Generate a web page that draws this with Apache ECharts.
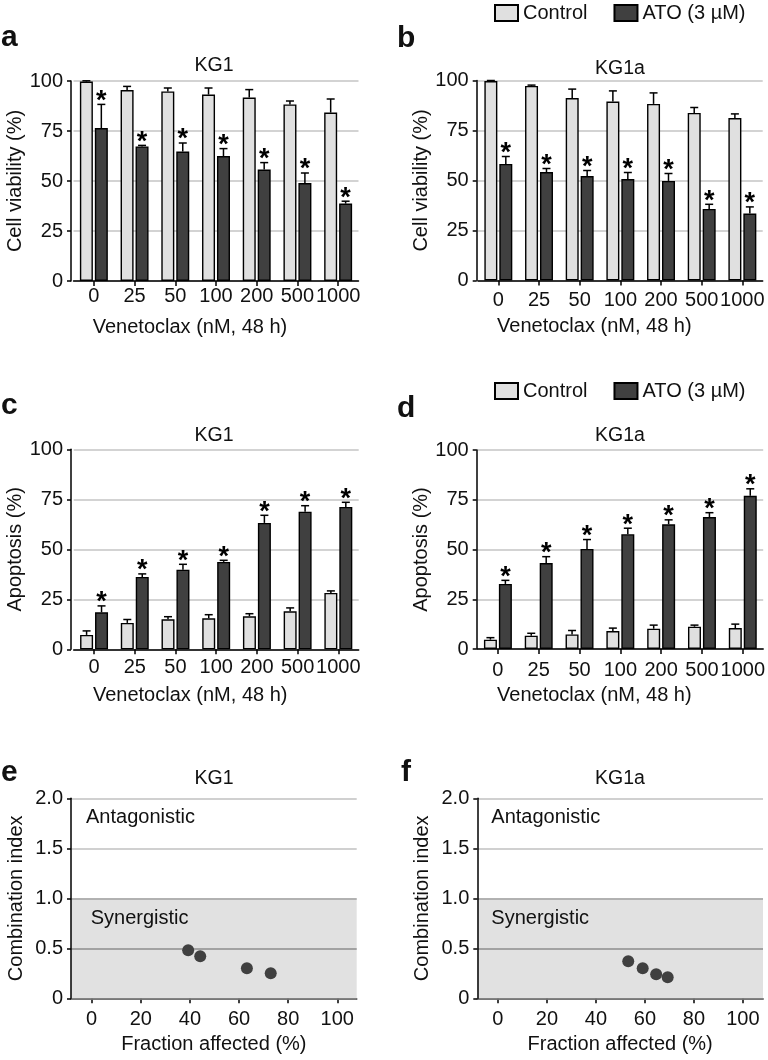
<!DOCTYPE html>
<html><head><meta charset="utf-8">
<script src="https://cdn.jsdelivr.net/npm/echarts@6/dist/echarts.min.js"></script>
<style>html,body{margin:0;padding:0;background:#fff}#c{width:768px;height:1060px}</style>
</head><body><div id="c"></div>
<script>
// ---------- data ----------
const categories = ['0','25','50','100','200','500','1000'];
const seriesNames = ['Control','ATO (3 µM)'];
const viabKG1Control    = [99.7,95.5,94.8,93.2,91.7,88.3,84.2];
const viabKG1ControlErr = [0.4,1.8,1.7,3.3,4.0,1.7,6.8];
const viabKG1ATO        = [76.5,67.3,64.7,62.5,55.7,49.0,38.7];
const viabKG1ATOErr     = [11.8,0.5,4.3,3.7,3.5,5.0,1.2];
const viabKG1aControl    = [99.7,97.3,91.2,89.5,88.3,83.8,81.2];
const viabKG1aControlErr = [0.3,0.4,4.5,5.3,5.5,2.7,2.1];
const viabKG1aATO        = [58.3,54.2,52.2,50.7,49.8,35.8,33.5];
const viabKG1aATOErr     = [3.7,1.8,2.8,3.3,3.7,2.3,3.3];
const apopKG1Control    = [7.2,13.2,15.0,15.5,16.5,19.0,28.2];
const apopKG1ControlErr = [2.0,1.7,1.3,1.8,1.3,1.7,1.0];
const apopKG1ATO        = [18.5,36.2,39.8,43.7,63.2,68.8,71.2];
const apopKG1ATOErr     = [3.2,1.5,2.7,0.8,3.8,3.0,2.3];
const apopKG1aControl    = [4.7,6.7,7.3,9.0,10.2,11.2,10.5];
const apopKG1aControlErr = [1.0,1.2,2.0,1.5,1.8,0.8,2.0];
const apopKG1aATO        = [32.7,43.2,50.3,57.7,62.7,66.3,77.0];
const apopKG1aATOErr     = [1.8,3.2,4.7,3.0,2.2,2.2,3.5];
const atoSignificant = [true,true,true,true,true,true,true];
const ciKG1Fa  = [39.3,44.2,63.2,72.9];
const ciKG1CI  = [0.48,0.42,0.30,0.25];
const ciKG1aFa = [53.2,59.1,64.6,69.3];
const ciKG1aCI = [0.37,0.30,0.24,0.21];
const ciXTicks = [0,20,40,60,80,100];
const barYTickLabels = ['0','25','50','75','100'];
const ciYTickLabels = ['0','0.5','1.0','1.5','2.0'];

// ---------- styling ----------
const FONT = '"Liberation Sans", Arial, Helvetica, sans-serif';
const TXT = '#111';
const CTRL = '#e0e0e0', ATO = '#404040';
const BAR_W = 13, BAR_GAP = '15%';
const HALF = BAR_W/2 + BAR_W*0.15/2;

const chart = echarts.init(document.getElementById('c'), null, {renderer:'canvas'});
const grid = [], xAxis = [], yAxis = [], series = [], graphic = [];

function txt(text, x, baseline, size, extra) {
  graphic.push({type:'text', x:x, y:baseline + 0.21*size, z:100,
    style:Object.assign({text:text, fontSize:size, fontFamily:FONT, fontWeight:'normal', fill:TXT, align:'left', verticalAlign:'bottom'}, extra||{})});
}

function errRender(params, api) {
  const j = api.value(0);
  const kids = [];
  [[1,2,-1],[3,4,1]].forEach(function(d){
    const v = api.value(d[0]), e = api.value(d[1]);
    const p0 = api.coord([j, v]), p1 = api.coord([j, v + e]);
    const x = p0[0] + d[2]*HALF;
    kids.push({type:'line', shape:{x1:x, y1:p0[1], x2:x, y2:p1[1]}, style:{stroke:'#000', lineWidth:1.5}});
    kids.push({type:'line', shape:{x1:x-4, y1:p1[1], x2:x+4, y2:p1[1]}, style:{stroke:'#000', lineWidth:1.5}});
    if (d[2] === 1 && api.value(5)) {
      kids.push({type:'text', x:x, y:p1[1] - 3, style:{text:'*', fontSize:27, fontWeight:'bold', fontFamily:FONT, fill:'#000', align:'center', verticalAlign:'middle'}});
    }
  });
  return {type:'group', children:kids};
}

function axisLineStyle(){ return {show:true, onZero:false, lineStyle:{color:'#000', width:1.5}}; }

function barPanel(g, ctrl, ctrlErr, ato, atoErr, yName, xMargin, yOffset) {
  const i = grid.length;
  grid.push(Object.assign({containLabel:false}, g));
  xAxis.push({gridIndex:i, type:'category', data:categories,
    axisLine:axisLineStyle(),
    axisTick:{show:true, alignWithLabel:true, length:5, lineStyle:{color:'#000', width:1.5}},
    axisLabel:{interval:0, margin:xMargin, fontSize:20, color:TXT, fontFamily:FONT},
    splitLine:{show:false},
    name:'Venetoclax (nM, 48 h)', nameLocation:'middle', nameGap:36,
    nameTextStyle:{fontSize:20, color:TXT, fontFamily:FONT, padding:[0,52,0,0]}});
  yAxis.push({gridIndex:i, type:'value', min:0, max:100, interval:25, offset:yOffset,
    axisLine:axisLineStyle(),
    axisTick:{show:true, length:4, lineStyle:{color:'#000', width:1.5}},
    axisLabel:{margin:8, fontSize:20, color:TXT, fontFamily:FONT,
      formatter:function(v){ return barYTickLabels[Math.round(v/25)]; }},
    splitLine:{show:true, lineStyle:{color:'#c4c4c4', width:1.5}},
    name:yName, nameLocation:'middle', nameGap:45, nameRotate:90,
    nameTextStyle:{fontSize:20, color:TXT, fontFamily:FONT}});
  series.push({type:'bar', name:seriesNames[0], xAxisIndex:i, yAxisIndex:i, data:ctrl,
    barWidth:BAR_W, barGap:BAR_GAP, itemStyle:{color:CTRL, borderColor:'#000', borderWidth:1.4}, z:3});
  series.push({type:'bar', name:seriesNames[1], xAxisIndex:i, yAxisIndex:i, data:ato,
    barWidth:BAR_W, barGap:BAR_GAP, itemStyle:{color:ATO, borderColor:'#000', borderWidth:1.4}, z:3});
  series.push({type:'custom', xAxisIndex:i, yAxisIndex:i, z:5, silent:true,
    data:categories.map(function(c,j){ return [j, ctrl[j], ctrlErr[j], ato[j], atoErr[j], atoSignificant[j] ? 1 : 0]; }),
    renderItem:errRender});
}

function ciPanel(g, fa, ci, xMin, xMax) {
  const i = grid.length;
  grid.push(g);
  xAxis.push({gridIndex:i, type:'value', min:xMin, max:xMax,
    axisLine:axisLineStyle(),
    axisTick:{show:true, customValues:ciXTicks, length:5, lineStyle:{color:'#000', width:1.5}},
    axisLabel:{customValues:ciXTicks, margin:11, fontSize:20, color:TXT, fontFamily:FONT},
    splitLine:{show:false},
    name:'Fraction affected (%)', nameLocation:'middle', nameGap:36,
    nameTextStyle:{fontSize:20, color:TXT, fontFamily:FONT}});
  yAxis.push({gridIndex:i, type:'value', min:0, max:2, interval:0.5, z:3,
    axisLine:axisLineStyle(),
    axisTick:{show:true, length:4, lineStyle:{color:'#000', width:1.5}},
    axisLabel:{margin:8, fontSize:20, color:TXT, fontFamily:FONT,
      formatter:function(v){ return ciYTickLabels[Math.round(v/0.5)]; }},
    splitLine:{show:true, lineStyle:{color:['#8c8c8c','#8c8c8c','#a0a0a0','#c0c0c0','#c0c0c0'], width:1.5}},
    splitArea:{show:true, areaStyle:{color:['#e1e1e1','#e1e1e1','rgba(255,255,255,0)','rgba(255,255,255,0)']}},
    name:'Combination index', nameLocation:'middle', nameGap:45, nameRotate:90,
    nameTextStyle:{fontSize:20, color:TXT, fontFamily:FONT}});
  series.push({type:'scatter', xAxisIndex:i, yAxisIndex:i, z:6, symbol:'circle', symbolSize:12,
    itemStyle:{color:ATO, opacity:1}, data:fa.map(function(x,k){ return [x, ci[k]]; })});
}

barPanel({left:73.5, top:81, width:285, height:200}, viabKG1Control, viabKG1ControlErr, viabKG1ATO, viabKG1ATOErr, 'Cell viability (%)', 5, 2.5);
barPanel({left:478, top:80.5, width:284.7, height:200}, viabKG1aControl, viabKG1aControlErr, viabKG1aATO, viabKG1aATOErr, 'Cell viability (%)', 10, 1.3);
barPanel({left:73.7, top:449.3, width:285, height:200}, apopKG1Control, apopKG1ControlErr, apopKG1ATO, apopKG1ATOErr, 'Apoptosis (%)', 8, 2.7);
barPanel({left:477.5, top:450, width:286, height:199}, apopKG1aControl, apopKG1aControlErr, apopKG1aATO, apopKG1aATOErr, 'Apoptosis (%)', 11, 0.8);
ciPanel({left:71, top:798.3, width:285.7, height:200}, ciKG1Fa, ciKG1CI, -8.4, 107.9);
ciPanel({left:477.3, top:798.3, width:285.7, height:200}, ciKG1aFa, ciKG1aCI, -8.4, 108.2);

// panel letters
const LB = {fontWeight:'bold'};
txt('a', 1, 46, 30, LB);
txt('b', 397, 47, 30, LB);
txt('c', 1, 414, 30, LB);
txt('d', 397, 417, 30, LB);
txt('e', 1, 781, 30, LB);
txt('f', 401, 781, 30, LB);
// titles
txt('KG1', 214, 72, 19.5, {align:'center'});
txt('KG1a', 620, 75, 19.5, {align:'center'});
txt('KG1', 214, 442, 19.5, {align:'center'});
txt('KG1a', 620, 442, 19.5, {align:'center'});
txt('KG1', 214, 785, 19.5, {align:'center'});
txt('KG1a', 620, 785, 19.5, {align:'center'});
// region notes
txt('Antagonistic', 86, 823, 20);
txt('Synergistic', 90.7, 924, 20);
txt('Antagonistic', 491.3, 823, 20);
txt('Synergistic', 491.3, 924, 20);

const legendBase = {orient:'horizontal', padding:0, itemWidth:23, itemHeight:16, itemGap:26, icon:'rect', selectedMode:false,
  textStyle:{fontSize:20, color:TXT, fontFamily:FONT}, data:seriesNames};

chart.setOption({
  animation:false,
  backgroundColor:'#fff',
  textStyle:{fontFamily:FONT},
  legend:[Object.assign({left:494, top:3}, legendBase), Object.assign({left:494, top:381}, legendBase)],
  grid:grid, xAxis:xAxis, yAxis:yAxis, series:series, graphic:graphic
});
</script></body></html>
